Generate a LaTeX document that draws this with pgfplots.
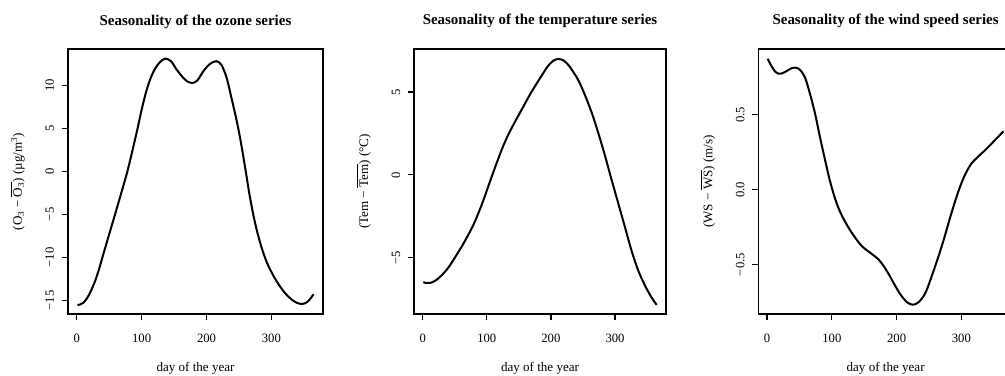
\documentclass[border=0pt]{standalone}
\usepackage{pgfplots}
\pgfplotsset{compat=1.18}
\usepackage{fontspec}
\setmainfont{Liberation Serif}

\pgfplotstableread{
day val
1 -15.55
5 -15.5
10 -15.3
15 -14.85
20 -14.2
27 -13.0
33 -11.7
39.5 -10.0
49 -7.55
59 -5.0
69 -2.4
78 0.0
86 2.5
94 5.1
100 7.2
107 9.3
114 10.9
121 12.0
128 12.7
136 13.13
145 12.85
154 11.85
164 10.9
171 10.45
178.5 10.3
186 10.6
195 11.65
205 12.5
215 12.83
223 12.4
231 10.9
238 8.7
245 6.4
250 4.6
255 2.5
260.5 0.0
266 -2.6
272 -5.0
278 -7.0
285 -8.9
293 -10.6
302 -12.0
312 -13.25
322 -14.25
331 -14.9
338 -15.25
345 -15.42
352 -15.35
358 -15.0
365 -14.3
}\ozone

\pgfplotstableread{
day val
1 -6.48
6 -6.53
12 -6.52
20 -6.38
30 -6.05
40 -5.6
48 -5.13
64 -4.12
79 -3.02
92 -1.81
105 -0.40
116 0.78
126 1.78
136 2.62
147 3.42
157 4.12
167 4.83
178 5.53
188 6.14
196 6.6
204 6.9
212 7.0
220 6.9
228 6.6
236 6.15
243 5.7
253 4.83
264 3.72
274 2.52
284 1.21
294 -0.20
305 -1.71
316 -3.22
326 -4.6
336 -5.75
347 -6.7
357 -7.4
365 -7.85
}\temp

\pgfplotstableread{
day val
1 0.875
5 0.84
9 0.81
13 0.787
17 0.776
22 0.776
28 0.787
33 0.80
38 0.812
43 0.816
48 0.81
53 0.79
59 0.745
66 0.645
74 0.51
82 0.345
90 0.19
97 0.06
105 -0.06
112 -0.14
120 -0.21
131 -0.289
146 -0.375
162 -0.43
172 -0.465
180 -0.51
188 -0.565
196 -0.628
206 -0.70
216 -0.751
225 -0.768
234 -0.751
244.5 -0.689
255 -0.567
265 -0.44
274 -0.315
284 -0.165
295 -0.015
305 0.095
315 0.172
326 0.222
336 0.262
347 0.31
357 0.355
365 0.39
}\wind

\pgfplotsset{
  rstyle/.style={
    scale only axis,
    anchor=south west,
    height=198.75pt,
    axis line style={line width=0.9pt},
    xmin=-13.56, xmax=379.56,
    xtick={0,100,200,300},
    xtick pos=bottom, ytick pos=left,
    tick align=outside,
    major tick length=4.5pt,
    tick style={line width=0.9pt, black},
    /pgf/number format/assume math mode=true,
    ticklabel style={font=\fontsize{9.5}{11}\selectfont},
    xticklabel style={anchor=base, yshift=-17pt},
    yticklabel style={xshift=-6pt, rotate=90, anchor=base},
    every axis title/.style={at={(axis description cs:0.5,1)}, anchor=base, yshift=18pt, font=\bfseries\fontsize{11.2}{13}\selectfont},
    every axis x label/.style={at={(axis description cs:0.5,0)}, anchor=base, yshift=-43.3pt, font=\fontsize{9.8}{11}\selectfont},
    every axis y label/.style={at={(axis description cs:0,0.5)}, xshift=-34.5pt, rotate=90, anchor=base, font=\fontsize{9.8}{11}\selectfont},
    xlabel={day of the year},
    clip=false,
  },
  curve/.style={black, line width=1.5pt, smooth, tension=0.5, no markers},
}

\begin{document}
\begin{tikzpicture}
\useasboundingbox (0,0) rectangle (753.75pt,281.25pt);
\clip (0,0) rectangle (753.75pt,281.25pt);

\begin{axis}[rstyle, at={(51pt,45.75pt)}, width=191.25pt,
  ymin=-16.6, ymax=14.25,
  ytick={-15,-10,-5,0,5,10},
  yticklabels={−15,−10,−5,0,5,10},
  title={Seasonality of the ozone series},
  ylabel={(O\textsubscript{3} − $\overline{\mbox{O\textsubscript{3}}}$) (µg/m\textsuperscript{3})}]
\addplot[curve] table[x=day,y=val] {\ozone};
\end{axis}

\begin{axis}[rstyle, at={(310.5pt,45.75pt)}, width=189pt,
  ymin=-8.4, ymax=7.6,
  ytick={-5,0,5},
  yticklabels={−5,0,5},
  title={Seasonality of the temperature series},
  ylabel={(Tem − $\overline{\mbox{Tem}}$) (°C)}]
\addplot[curve] table[x=day,y=val] {\temp};
\end{axis}

\begin{axis}[rstyle, at={(568.7pt,45.75pt)}, width=191pt,
  ymin=-0.83, ymax=0.94,
  ytick={-0.5,0,0.5},
  yticklabels={−0.5,0.0,0.5},
  title={Seasonality of the wind speed series},
  ylabel={(WS − $\overline{\mbox{WS}}$) (m/s)}]
\addplot[curve] table[x=day,y=val] {\wind};
\end{axis}
\end{tikzpicture}
\end{document}
